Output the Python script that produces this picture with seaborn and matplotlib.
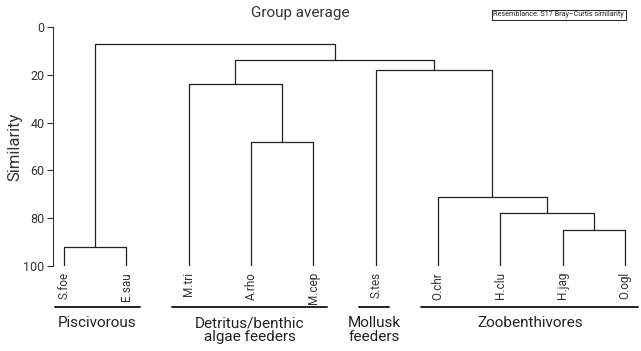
import matplotlib.pyplot as plt
import seaborn as sns
import pandas as pd

# leaves in plotting order
leaves = ['S.foe', 'E.sau', 'M.tri', 'A.rho', 'M.cep', 'S.tes', 'O.chr', 'H.clu', 'H.jag', 'O.ogl']

# merges m1..m9 (group average, Bray-Curtis similarity)
merge_left = ['S.foe', 'A.rho', 'M.tri', 'H.jag', 'H.clu', 'O.chr', 'S.tes', 'm3', 'm1']
merge_right = ['E.sau', 'M.cep', 'm2', 'O.ogl', 'm4', 'm5', 'm6', 'm7', 'm8']
merge_sim = [92, 48, 24, 85, 78, 71, 18, 14, 7]

# feeding groups
group_names = ['Piscivorous', 'Detritus/benthic\nalgae feeders', 'Mollusk\nfeeders', 'Zoobenthivores']
group_first = ['S.foe', 'M.tri', 'S.tes', 'O.chr']
group_last = ['E.sau', 'M.cep', 'S.tes', 'O.ogl']

sns.set_style('ticks')
plt.rcParams['font.family'] = ['Roboto', 'DejaVu Sans']

# positions of leaves and clusters
pos = {name: i for i, name in enumerate(leaves)}
height = {name: 100 for name in leaves}
rows = []
for k, (l, r, s) in enumerate(zip(merge_left, merge_right, merge_sim)):
    name = 'm%d' % (k + 1)
    pts = [(pos[l], height[l]), (pos[l], s), (pos[r], s), (pos[r], height[r])]
    for x, y in pts:
        rows.append({'link': name, 'x': x, 'similarity': y})
    pos[name] = (pos[l] + pos[r]) / 2
    height[name] = s
df = pd.DataFrame(rows)

fig = plt.figure(figsize=(6.41, 3.51), dpi=100)
ax = fig.add_axes([53 / 641, 1 - 266 / 351, 583 / 641, 239 / 351])

sns.lineplot(data=df, x='x', y='similarity', units='link', estimator=None,
             sort=False, color='#222222', linewidth=0.9, ax=ax)

ax.set_xlim(-0.18, len(leaves) - 1 + 0.18)
ax.set_ylim(100, 0)
ax.set_yticks([0, 20, 40, 60, 80, 100])
ax.tick_params(axis='y', labelsize=9, length=4, width=0.8, colors='#333333', pad=2)
ax.set_xticks([])
ax.set_xlabel('')
ax.set_ylabel('')
for side in ['top', 'right', 'bottom']:
    ax.spines[side].set_visible(False)
ax.spines['left'].set_linewidth(0.8)
ax.spines['left'].set_color('#333333')

fig.text(15 / 641, 1 - 147 / 351, 'Similarity', rotation=90, ha='center', va='center',
         fontsize=12, color='#333333')

# leaf labels
for name in leaves:
    ax.text(pos[name], 102.5, name, rotation=90, ha='center', va='top',
            fontsize=8.5, color='#333333', clip_on=False)

# group bars and labels
for gname, a, b in zip(group_names, group_first, group_last):
    x0 = max(pos[a] - 0.27, -0.15)
    x1 = pos[b] + 0.22
    ax.plot([x0, x1], [117, 117], color='#222222', linewidth=1.4, clip_on=False)
    ax.text((x0 + x1) / 2, 121, gname, ha='center', va='top', fontsize=11,
            color='#222222', linespacing=0.95, clip_on=False)

fig.text(300 / 641, 1 - 13 / 351, 'Group average', ha='center', va='center',
         fontsize=11, color='#333333')
fig.text(624 / 641, 1 - 15 / 351, 'Resemblance: S17 Bray\u2013Curtis similarity',
         ha='right', va='center', fontsize=5.2, color='#222222',
         bbox=dict(boxstyle='square,pad=0.25', fc='white', ec='#222222', lw=0.7))

fig.savefig('out.png', dpi=100)
